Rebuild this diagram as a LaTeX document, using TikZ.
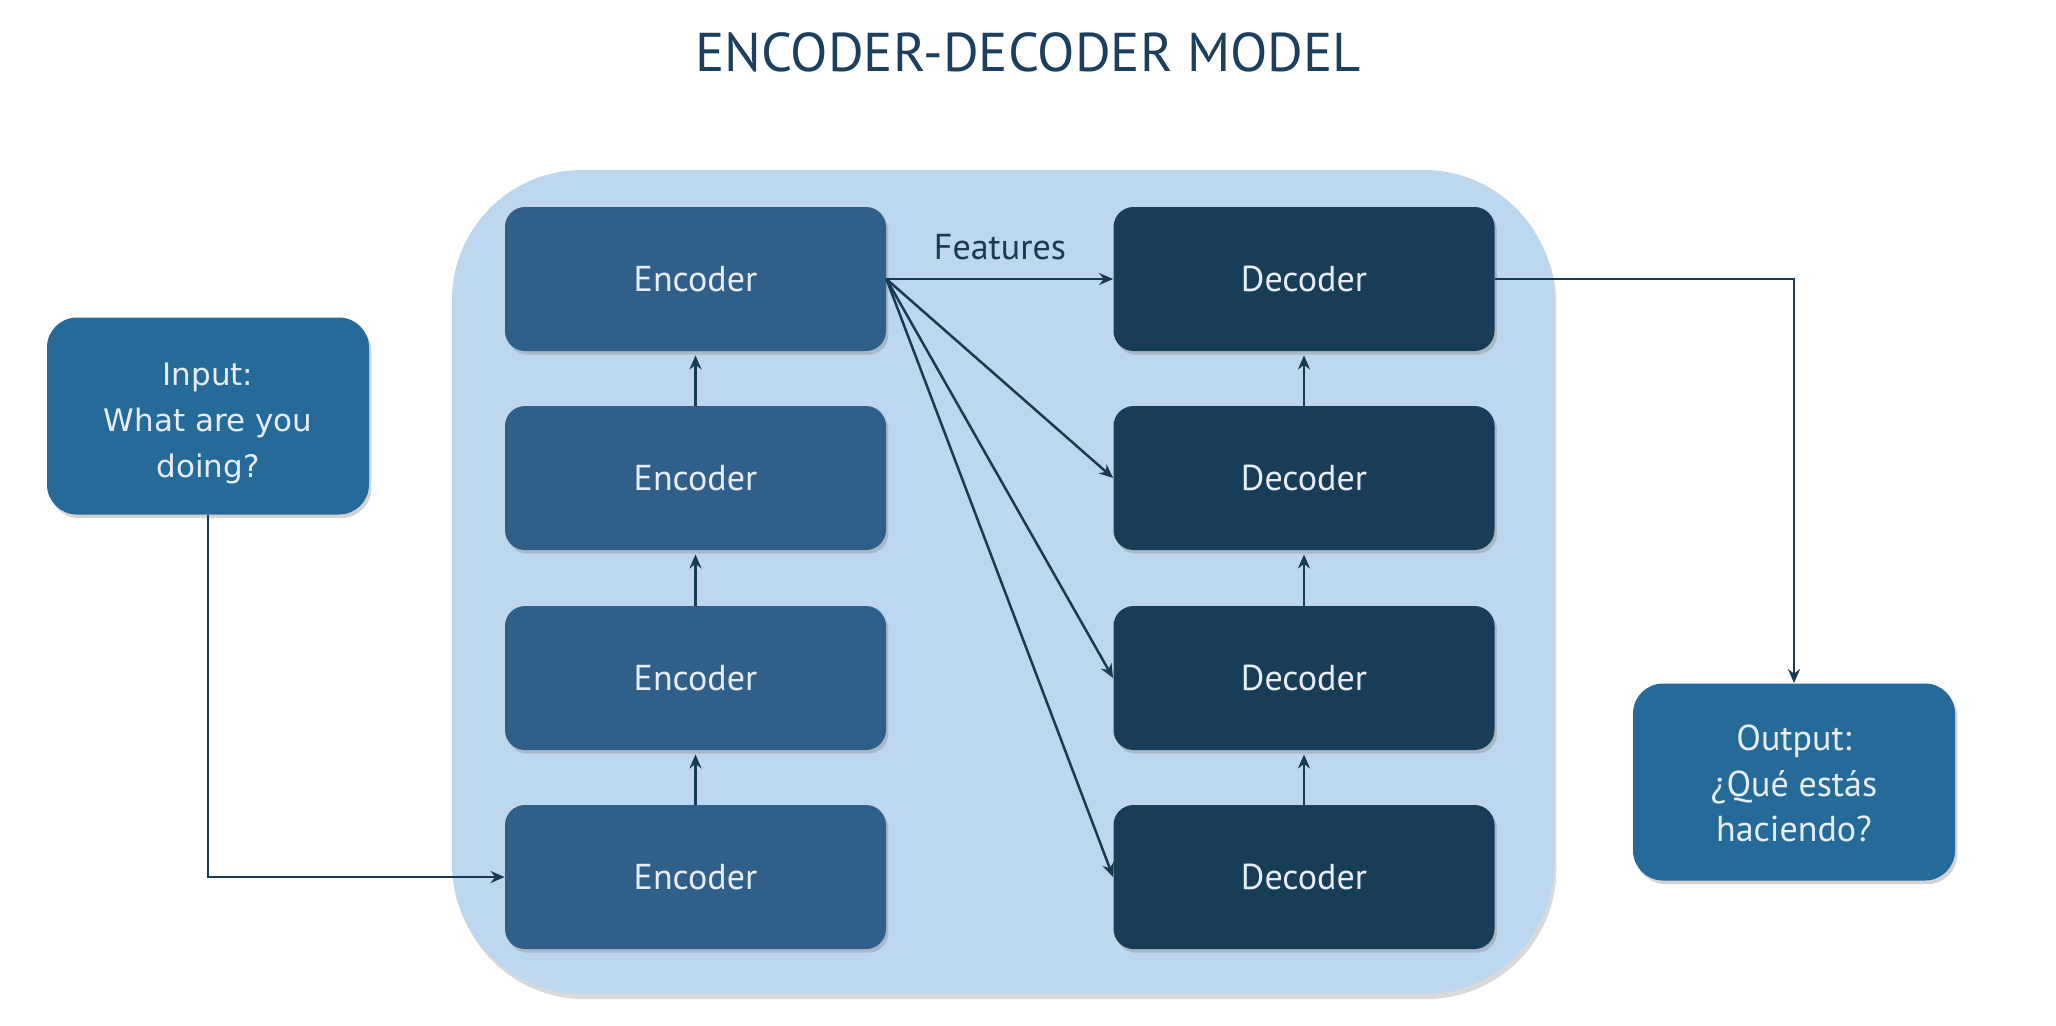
\documentclass[tikz,border=0pt]{standalone}
\usepackage{fontspec}
\setmainfont{PT Sans}
\newfontfamily\verd{DejaVu Sans}
\usetikzlibrary{arrows.meta,shadows}
\definecolor{bgblue}{HTML}{BDD7EE}
\definecolor{encblue}{HTML}{305F8A}
\definecolor{decblue}{HTML}{183D59}
\definecolor{ioblue}{HTML}{266A9A}
\definecolor{linec}{HTML}{173A55}
\definecolor{titlec}{HTML}{1C3F5E}
\definecolor{txtc}{HTML}{E8EEF5}
\newcommand\lowtxt[2]{\raisebox{-#1}[\height][\depth]{\begin{tabular}{@{}c@{}}#2\end{tabular}}}
\begin{document}
\begin{tikzpicture}[x=0.5pt,y=-0.5pt,
  box/.style={rounded corners=10pt, minimum width=190.5pt, minimum height=72pt,
    text=txtc, font=\fontsize{18}{22}\selectfont,
    drop shadow={opacity=0.35,shadow xshift=1.2pt,shadow yshift=-1.8pt}},
  enc/.style={box, fill=encblue},
  dec/.style={box, fill=decblue},
  io/.style={box, fill=ioblue, minimum width=161pt, minimum height=98.5pt, rounded corners=15pt},
  conn/.style={draw=linec, line width=1.25pt, -{Stealth[length=7pt,width=6pt]}},
  up/.style={conn, shorten >=2pt}]
\useasboundingbox (0,0) rectangle (2056,1025);
\path[fill=bgblue, rounded corners=65pt,
  drop shadow={opacity=0.3,shadow xshift=1.2pt,shadow yshift=-2.5pt}] (452,170) rectangle (1554,994);

\node[font=\fontsize{27.3}{32}\selectfont, text=titlec] (title) at (1028,52) {ENCODER-DECODER MODEL};

\node[enc] (e1) at (695.5,279) {\lowtxt{2pt}{Encoder}};
\node[enc] (e2) at (695.5,478) {\lowtxt{2pt}{Encoder}};
\node[enc] (e3) at (695.5,678) {\lowtxt{2pt}{Encoder}};
\node[enc] (e4) at (695.5,877) {\lowtxt{2pt}{Encoder}};

\node[dec] (d1) at (1304,279) {\lowtxt{2pt}{Decoder}};
\node[dec] (d2) at (1304,478) {\lowtxt{2pt}{Decoder}};
\node[dec] (d3) at (1304,678) {\lowtxt{2pt}{Decoder}};
\node[dec] (d4) at (1304,877) {\lowtxt{2pt}{Decoder}};

\node[io, font=\verd\fontsize{15.5}{23}\selectfont] (in) at (208,416) {\lowtxt{3pt}{Input:\\What are you\\doing?}};
\node[io, font=\fontsize{18}{22.6}\selectfont] (out) at (1794,782) {\lowtxt{2.5pt}{Output:\\¿Qué estás\\haciendo?}};

\node[font=\fontsize{18}{22}\selectfont, text=linec] (feat) at (1000,247) {Features};

\draw[up] (e4.north) -- (e3.south);
\draw[up] (e3.north) -- (e2.south);
\draw[up] (e2.north) -- (e1.south);
\draw[up] (d4.north) -- (d3.south);
\draw[up] (d3.north) -- (d2.south);
\draw[up] (d2.north) -- (d1.south);

\draw[conn] (e1.east) -- (d1.west);
\draw[conn] (e1.east) -- (d2.west);
\draw[conn] (e1.east) -- (d3.west);
\draw[conn] (e1.east) -- (d4.west);

\draw[conn] (in.south) |- (e4.west);
\draw[conn] (d1.east) -| (out.north);
\end{tikzpicture}
\end{document}
